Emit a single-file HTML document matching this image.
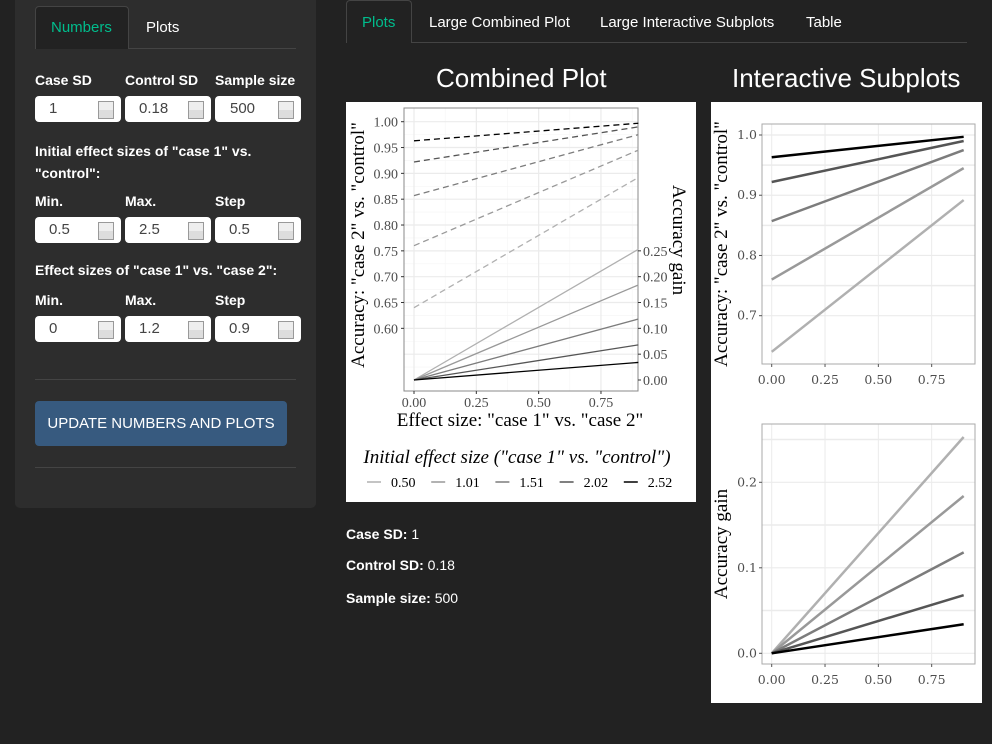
<!DOCTYPE html>
<html><head><meta charset="utf-8">
<style>
body{margin:0;width:992px;height:744px;background:#222;font-family:"Liberation Sans",sans-serif;color:#fff;position:relative;overflow:hidden}
.abs{position:absolute}
.side{left:15px;top:0;width:301px;height:508px;background:#2d2d2d;border-radius:0 0 5px 5px}
.lbl{font-size:14px;font-weight:bold;color:#fff}
.inp{height:26px;background:#fff;border-radius:4px;color:#444;font-size:15px;line-height:26px}
.inp span{position:absolute;left:14px}
.spin{position:absolute;right:7px;top:5px;width:14px;height:16px;border:1px solid #999;background:linear-gradient(#eee 50%,#ddd 50%)}
.tab{font-size:15px;color:#fff}
.info{font-size:14px;color:#fff;left:346px}
</style></head><body>
<div class="abs side"></div>
<div class="abs" style="left:35px;top:6px;width:92px;height:42px;background:#222;border:1px solid #444;border-bottom:none;border-radius:4px 4px 0 0"></div>
<div class="abs tab" style="left:51px;top:19px;color:#00bc8c">Numbers</div>
<div class="abs tab" style="left:146px;top:19px">Plots</div>
<div class="abs" style="left:128px;top:48px;width:168px;height:1px;background:#444"></div>

<div class="abs lbl" style="left:35px;top:72px">Case SD</div>
<div class="abs lbl" style="left:125px;top:72px">Control SD</div>
<div class="abs lbl" style="left:215px;top:72px">Sample size</div>
<div class="abs inp" style="left:35px;top:96px;width:86px"><span>1</span><div class="spin"></div></div>
<div class="abs inp" style="left:125px;top:96px;width:86px"><span>0.18</span><div class="spin"></div></div>
<div class="abs inp" style="left:215px;top:96px;width:86px"><span style="left:15px">500</span><div class="spin"></div></div>

<div class="abs lbl" style="left:35px;top:140px;line-height:22px;width:260px">Initial effect sizes of "case 1" vs. "control":</div>
<div class="abs lbl" style="left:35px;top:193px">Min.</div>
<div class="abs lbl" style="left:125px;top:193px">Max.</div>
<div class="abs lbl" style="left:215px;top:193px">Step</div>
<div class="abs inp" style="left:35px;top:217px;width:86px"><span>0.5</span><div class="spin"></div></div>
<div class="abs inp" style="left:125px;top:217px;width:86px"><span>2.5</span><div class="spin"></div></div>
<div class="abs inp" style="left:215px;top:217px;width:86px"><span>0.5</span><div class="spin"></div></div>

<div class="abs lbl" style="left:35px;top:262px">Effect sizes of "case 1" vs. "case 2":</div>
<div class="abs lbl" style="left:35px;top:292px">Min.</div>
<div class="abs lbl" style="left:125px;top:292px">Max.</div>
<div class="abs lbl" style="left:215px;top:292px">Step</div>
<div class="abs inp" style="left:35px;top:316px;width:86px"><span>0</span><div class="spin"></div></div>
<div class="abs inp" style="left:125px;top:316px;width:86px"><span>1.2</span><div class="spin"></div></div>
<div class="abs inp" style="left:215px;top:316px;width:86px"><span>0.9</span><div class="spin"></div></div>

<div class="abs" style="left:35px;top:379px;width:261px;height:1px;background:#444"></div>
<div class="abs" style="left:35px;top:401px;width:252px;height:45px;background:#375a7f;border-radius:4px;font-size:15px;line-height:45px;text-align:center">UPDATE NUMBERS AND PLOTS</div>
<div class="abs" style="left:35px;top:467px;width:261px;height:1px;background:#444"></div>

<div class="abs" style="left:346px;top:0;width:64px;height:42px;background:#222;border:1px solid #444;border-bottom:none;border-radius:4px 4px 0 0"></div>
<div class="abs tab" style="left:362px;top:14px;color:#00bc8c">Plots</div>
<div class="abs tab" style="left:429px;top:14px">Large Combined Plot</div>
<div class="abs tab" style="left:600px;top:14px">Large Interactive Subplots</div>
<div class="abs tab" style="left:806px;top:14px">Table</div>
<div class="abs" style="left:411px;top:42px;width:556px;height:1px;background:#444"></div>

<div class="abs" style="left:436px;top:63px;font-size:26px">Combined Plot</div>
<div class="abs" style="left:732px;top:63px;font-size:26px">Interactive Subplots</div>

<div class="abs info" style="top:526px"><b>Case SD:</b> 1</div>
<div class="abs info" style="top:557px"><b>Control SD:</b> 0.18</div>
<div class="abs info" style="top:590px"><b>Sample size:</b> 500</div>

<svg id="chart" class="abs" style="left:0;top:0" width="992" height="744" font-family="Liberation Serif, serif"></svg>
<script>
const effects=[0,0.9];
const groups=["0.50","1.01","1.51","2.02","2.52"];
const acc0=[0.640,0.760,0.857,0.922,0.963];
const acc1=[0.892,0.945,0.975,0.990,0.997];
const gain1=[0.253,0.184,0.118,0.068,0.034];
const colors=["#b0b0b0","#999999","#7c7c7c","#555555","#000000"];
const xTicks=[0,0.25,0.5,0.75];
const leftTicks=[0.6,0.65,0.7,0.75,0.8,0.85,0.9,0.95,1.0];
const rightTicks=[0,0.05,0.1,0.15,0.2,0.25];
const topTicks=[0.7,0.8,0.9,1.0];
const botTicks=[0,0.1,0.2];
const svg=document.getElementById('chart');
const NS="http://www.w3.org/2000/svg";
function el(t,a,txt){const e=document.createElementNS(NS,t);for(const k in a)e.setAttribute(k,a[k]);if(txt!==undefined)e.textContent=txt;svg.appendChild(e);return e;}
// combined
const cx=v=>414+v*249.3, cyL=v=>121.7+(1-v)*516.6, cyR=g=>380-g*516.6;
let r=el('rect',{x:346,y:102,width:350,height:400,fill:'#fff'});

for(let v=0.125;v<1;v+=0.25)el('line',{x1:cx(v),x2:cx(v),y1:108,y2:391,stroke:'#f5f5f5','stroke-width':0.6});
for(let v=0.525;v<1.02;v+=0.05)el('line',{x1:404,x2:638,y1:cyL(v),y2:cyL(v),stroke:'#f5f5f5','stroke-width':0.6});
xTicks.forEach(v=>el('line',{x1:cx(v),x2:cx(v),y1:108,y2:391,stroke:'#ebebeb','stroke-width':1.2}));
for(let v=0.55;v<1.02;v+=0.05)el('line',{x1:404,x2:638,y1:cyL(v),y2:cyL(v),stroke:'#ebebeb','stroke-width':1.2});
el('rect',{x:404,y:108,width:234,height:283,fill:'none',stroke:'#888','stroke-width':1});
groups.forEach((g,i)=>{
 let l=el('line',{x1:cx(effects[0]),y1:cyL(acc0[i]),x2:cx(effects[1]),y2:cyL(acc1[i]),stroke:colors[i],'stroke-width':1.3,'stroke-dasharray':'6,4'});
 
 let m=el('line',{x1:cx(effects[0]),y1:cyR(0),x2:cx(effects[1]),y2:cyR(gain1[i]),stroke:colors[i],'stroke-width':1.3});
 
});
leftTicks.forEach(v=>{el('line',{x1:401,x2:404,y1:cyL(v),y2:cyL(v),stroke:'#333'});el('text',{x:398,y:cyL(v)+5,'text-anchor':'end','font-size':14,fill:'#4d4d4d'},v.toFixed(2));});
rightTicks.forEach(v=>{el('line',{x1:638,x2:641,y1:cyR(v),y2:cyR(v),stroke:'#333'});el('text',{x:643,y:cyR(v)+5,'font-size':14,fill:'#4d4d4d'},v.toFixed(2));});
xTicks.forEach(v=>{el('line',{x1:cx(v),x2:cx(v),y1:391,y2:394,stroke:'#333'});el('text',{x:cx(v),y:407,'text-anchor':'middle','font-size':14,fill:'#4d4d4d'},v.toFixed(2));});
let t=el('text',{x:520,y:426,'text-anchor':'middle','font-size':19,fill:'#000'},'Effect size: "case 1" vs. "case 2"');

t=el('text',{x:0,y:0,transform:'translate(364,245) rotate(-90)','text-anchor':'middle','font-size':19,fill:'#000'},'Accuracy: "case 2" vs. "control"');

t=el('text',{x:0,y:0,transform:'translate(673,240) rotate(90)','text-anchor':'middle','font-size':19,fill:'#000'},'Accuracy gain');

t=el('text',{x:517,y:463,'text-anchor':'middle','font-size':19,'font-style':'italic',fill:'#000'},'Initial effect size ("case 1" vs. "control")');

groups.forEach((g,i)=>{const x0=367+i*64.2;
 let l=el('line',{x1:x0,x2:x0+14,y1:482,y2:482,stroke:colors[i],'stroke-width':1.5});
 
 el('text',{x:x0+24,y:487,'font-size':14,fill:'#000'},g);});
// interactive
r=el('rect',{x:711,y:102,width:271,height:601,fill:'#fff'});

const ix=v=>771.7+v*213.3, iyT=v=>135+(1-v)*602.3, iyB=g=>653.3-g*855;
function panel(top,bot,yf,ticks,minor,vals0,vals1,title,tname){
 xTicks.forEach(v=>el('line',{x1:ix(v),x2:ix(v),y1:top,y2:bot,stroke:'#ebebeb'}));
 minor.forEach(v=>el('line',{x1:762,x2:975,y1:yf(v),y2:yf(v),stroke:'#ebebeb','stroke-width':1.5}));
 ticks.forEach(v=>el('line',{x1:762,x2:975,y1:yf(v),y2:yf(v),stroke:'#ebebeb','stroke-width':1.2}));
 el('rect',{x:762,y:top,width:213,height:bot-top,fill:'none',stroke:'#aaa','stroke-width':1});
 groups.forEach((g,i)=>{let l=el('line',{x1:ix(effects[0]),y1:yf(vals0[i]),x2:ix(effects[1]),y2:yf(vals1[i]),stroke:colors[i],'stroke-width':2.5});
  });
 ticks.forEach(v=>{el('line',{x1:759,x2:762,y1:yf(v),y2:yf(v),stroke:'#555'});el('text',{x:757,y:yf(v)+4,'text-anchor':'end','font-size':12.5,'font-family':'DejaVu Serif, serif',fill:'#4d4d4d'},v.toFixed(1));});
 xTicks.forEach(v=>{el('line',{x1:ix(v),x2:ix(v),y1:bot,y2:bot+3,stroke:'#555'});el('text',{x:ix(v),y:bot+20,'text-anchor':'middle','font-size':12.5,'font-family':'DejaVu Serif, serif',fill:'#4d4d4d'},v.toFixed(2));});
 let tt=el('text',{x:0,y:0,transform:`translate(727,${(top+bot)/2}) rotate(-90)`,'text-anchor':'middle','font-size':19,fill:'#000'},title);
 
}
panel(124,364,iyT,topTicks,[0.75,0.85,0.95],acc0,acc1,'Accuracy: "case 2" vs. "control"','accuracy-subplot');
panel(424,664,iyB,botTicks,[0.05,0.15,0.25],[0,0,0,0,0],gain1,'Accuracy gain','gain-subplot');
</script>
</body></html>
